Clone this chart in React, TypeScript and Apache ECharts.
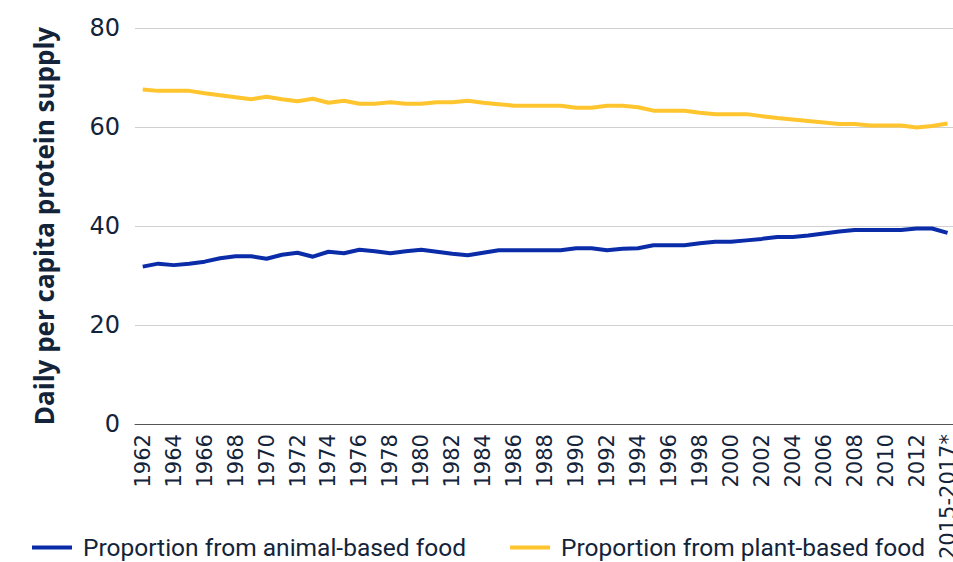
import React, { useEffect, useRef } from "react";
import * as echarts from "echarts";

const years: string[] = [
  "1962","1963","1964","1965","1966","1967","1968","1969","1970","1971",
  "1972","1973","1974","1975","1976","1977","1978","1979","1980","1981",
  "1982","1983","1984","1985","1986","1987","1988","1989","1990","1991",
  "1992","1993","1994","1995","1996","1997","1998","1999","2000","2001",
  "2002","2003","2004","2005","2006","2007","2008","2009","2010","2011",
  "2012","2013","2015-2017*",
];

const animalBased: number[] = [
  31.8, 32.4, 32.1, 32.4, 32.8, 33.5, 33.9, 33.9, 33.4, 34.2,
  34.6, 33.8, 34.8, 34.5, 35.2, 34.9, 34.5, 34.9, 35.2, 34.8,
  34.4, 34.1, 34.6, 35.1, 35.1, 35.1, 35.1, 35.1, 35.5, 35.5,
  35.1, 35.4, 35.5, 36.1, 36.1, 36.1, 36.5, 36.8, 36.8, 37.1,
  37.4, 37.8, 37.8, 38.1, 38.5, 38.9, 39.2, 39.2, 39.2, 39.2,
  39.5, 39.5, 38.6,
];

const plantBased: number[] = [
  67.6, 67.3, 67.3, 67.3, 66.8, 66.4, 66.0, 65.6, 66.1, 65.6,
  65.2, 65.7, 64.9, 65.3, 64.7, 64.7, 65.0, 64.7, 64.7, 65.0,
  65.0, 65.3, 64.9, 64.6, 64.3, 64.3, 64.3, 64.3, 63.9, 63.9,
  64.3, 64.3, 64.0, 63.3, 63.3, 63.3, 62.9, 62.6, 62.6, 62.6,
  62.2, 61.8, 61.5, 61.2, 60.9, 60.6, 60.6, 60.3, 60.3, 60.3,
  59.9, 60.2, 60.7,
];

const yTicks = { min: 0, max: 80, interval: 20 };
const seriesNames = ["Proportion from animal-based food", "Proportion from plant-based food"];
const yAxisTitle = "Daily per capita protein supply";

const TEXT = "#13243a";

export default function App() {
  const ref = useRef<HTMLDivElement>(null);
  useEffect(() => {
    if (!ref.current) return;
    const chart = echarts.init(ref.current, undefined, { renderer: "svg" });
    chart.setOption({
      animation: false,
      grid: { left: 135, right: 0, top: 28, bottom: 137 },
      legend: {
        left: 32,
        top: 535,
        padding: 0,
        icon: "rect",
        itemWidth: 40,
        itemHeight: 4,
        itemGap: 44,
        textStyle: {
          fontFamily: "Roboto",
          fontSize: 24.5,
          color: TEXT,
          padding: [0, 0, 0, 6],
        },
        data: seriesNames,
      },
      xAxis: {
        type: "category",
        data: years,
        boundaryGap: true,
        axisLine: { show: true, lineStyle: { color: "#555", width: 1 } },
        axisTick: { show: false },
        axisLabel: {
          interval: 1,
          rotate: 90,
          margin: 10,
          fontFamily: "DejaVu Sans",
          fontSize: 21,
          color: TEXT,
        },
      },
      yAxis: {
        type: "value",
        min: yTicks.min,
        max: yTicks.max,
        interval: yTicks.interval,
        name: yAxisTitle,
        nameLocation: "middle",
        nameGap: 78,
        nameTextStyle: {
          fontFamily: "Open Sans",
          fontWeight: "bold",
          fontSize: 26,
          color: TEXT,
        },
        axisLine: { show: false },
        axisTick: { show: false },
        splitLine: { lineStyle: { color: "#d0d0d0", width: 1 } },
        axisLabel: {
          margin: 15,
          fontFamily: "DejaVu Sans",
          fontSize: 24,
          color: TEXT,
        },
      },
      series: [
        {
          name: seriesNames[0],
          type: "line",
          data: animalBased,
          showSymbol: false,
          symbol: "none",
          lineStyle: { color: "#0b2ca8", width: 4 },
          itemStyle: { color: "#0b2ca8" },
        },
        {
          name: seriesNames[1],
          type: "line",
          data: plantBased,
          showSymbol: false,
          symbol: "none",
          lineStyle: { color: "#ffc52e", width: 4 },
          itemStyle: { color: "#ffc52e" },
        },
      ],
    });
    return () => chart.dispose();
  }, []);
  return (
    <div
      style={{
        position: "absolute",
        left: 0,
        top: 0,
        width: 953,
        height: 562,
        overflow: "hidden",
        background: "#fff",
      }}
    >
      <div ref={ref} style={{ width: 958, height: 562 }} />
    </div>
  );
}
